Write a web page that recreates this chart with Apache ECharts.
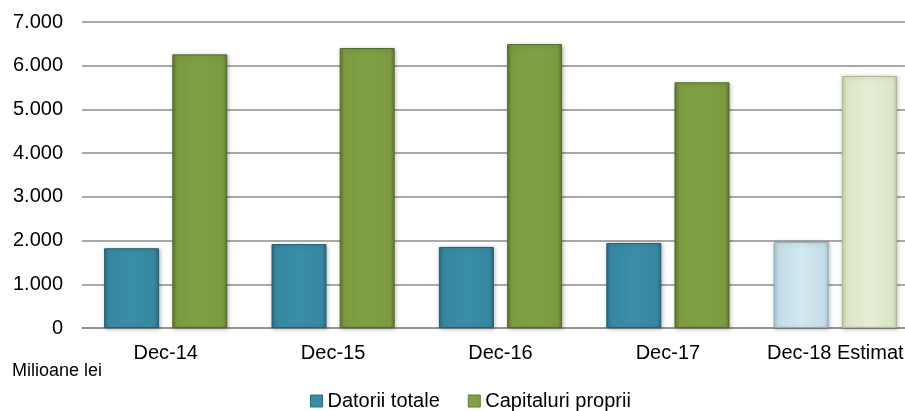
<!DOCTYPE html>
<html>
<head>
<meta charset="utf-8">
<script src="https://cdn.jsdelivr.net/npm/echarts@6/dist/echarts.min.js"></script>
<style>
html,body{margin:0;padding:0;background:#fff;overflow:hidden;width:905px;height:411px;}
#chart{width:922px;height:411px;}
</style>
</head>
<body>
<div id="chart"></div>
<script>
var categories = ['Dec-14', 'Dec-15', 'Dec-16', 'Dec-17', 'Dec-18 Estimat'];
var datoriiTotale = [1825, 1920, 1855, 1945, 1970];
var capitaluriProprii = [6260, 6405, 6495, 5620, 5765];
var yTicks = [0, 1000, 2000, 3000, 4000, 5000, 6000, 7000];
var seriesNames = ['Datorii totale', 'Capitaluri proprii'];
var unitLabel = 'Milioane lei';

function grad(edge, base, light) {
  return new echarts.graphic.LinearGradient(0, 0, 1, 0, [
    {offset: 0, color: edge},
    {offset: 0.08, color: base},
    {offset: 0.5, color: light},
    {offset: 0.92, color: base},
    {offset: 1, color: edge}
  ]);
}
function fmt(v) {
  return String(v).replace(/\B(?=(\d{3})+(?!\d))/g, '.');
}

var blue = grad('#2a6f84', '#3688a1', '#3b8ea8');
var blueLight = grad('#a9c8d3', '#c3dde7', '#d3e8ef');
var green = grad('#5f7a2e', '#7c9b40', '#80a044');
var greenLight = grad('#c5d3ac', '#dbe6c4', '#e6eed5');

var lastIdx = categories.length - 1;
var dData = datoriiTotale.map(function (v, i) {
  return i === lastIdx ? {value: v, itemStyle: {color: blueLight, borderColor: '#8fa9b3'}} : v;
});
var cData = capitaluriProprii.map(function (v, i) {
  return i === lastIdx ? {value: v, itemStyle: {color: greenLight, borderColor: '#a9b893'}} : v;
});

var chart = echarts.init(document.getElementById('chart'), null, {renderer: 'canvas'});
chart.setOption({
  animation: false,
  backgroundColor: '#ffffff',
  textStyle: {fontFamily: 'Liberation Sans, Arial, sans-serif'},
  grid: {left: 82, top: 22, right: 3, height: 306, containLabel: false},
  legend: {
    left: 305, top: 386,
    itemWidth: 12, itemHeight: 12, itemGap: 28,
    icon: 'rect',
    textStyle: {fontSize: 20, color: '#000', fontFamily: 'Liberation Sans, Arial, sans-serif'},
    data: [
      {name: seriesNames[0], itemStyle: {color: '#3a8ca6', borderColor: '#2a6f84', borderWidth: 1}},
      {name: seriesNames[1], itemStyle: {color: '#80a044', borderColor: '#5f7a2e', borderWidth: 1}}
    ]
  },
  graphic: [{
    type: 'text', left: 12, top: 362,
    style: {text: unitLabel, fontSize: 18, fill: '#000', fontFamily: 'Liberation Sans, Arial, sans-serif'}
  }],
  xAxis: {
    type: 'category',
    data: categories,
    axisLine: {show: true, lineStyle: {color: '#8c8c8c', width: 1.5}},
    axisTick: {show: false},
    axisLabel: {fontSize: 20, color: '#000', margin: 15, interval: 0, fontFamily: 'Liberation Sans, Arial, sans-serif'}
  },
  yAxis: {
    type: 'value',
    min: yTicks[0], max: yTicks[yTicks.length - 1], interval: 1000,
    axisLine: {show: false},
    axisTick: {show: false},
    axisLabel: {fontSize: 20, color: '#000', margin: 19, formatter: fmt, fontFamily: 'Liberation Sans, Arial, sans-serif'},
    splitLine: {lineStyle: {color: '#8c8c8c', width: 1.5}}
  },
  series: [
    {
      name: seriesNames[0], type: 'bar', data: dData,
      barWidth: 55, barGap: '24%',
      itemStyle: {color: blue, borderColor: '#24606f', borderWidth: 1,
        shadowColor: 'rgba(0,0,0,0.25)', shadowBlur: 4, shadowOffsetX: 1, shadowOffsetY: 1}
    },
    {
      name: seriesNames[1], type: 'bar', data: cData,
      barWidth: 55,
      itemStyle: {color: green, borderColor: '#536b27', borderWidth: 1,
        shadowColor: 'rgba(0,0,0,0.25)', shadowBlur: 4, shadowOffsetX: 1, shadowOffsetY: 1}
    }
  ]
});
</script>
</body>
</html>
